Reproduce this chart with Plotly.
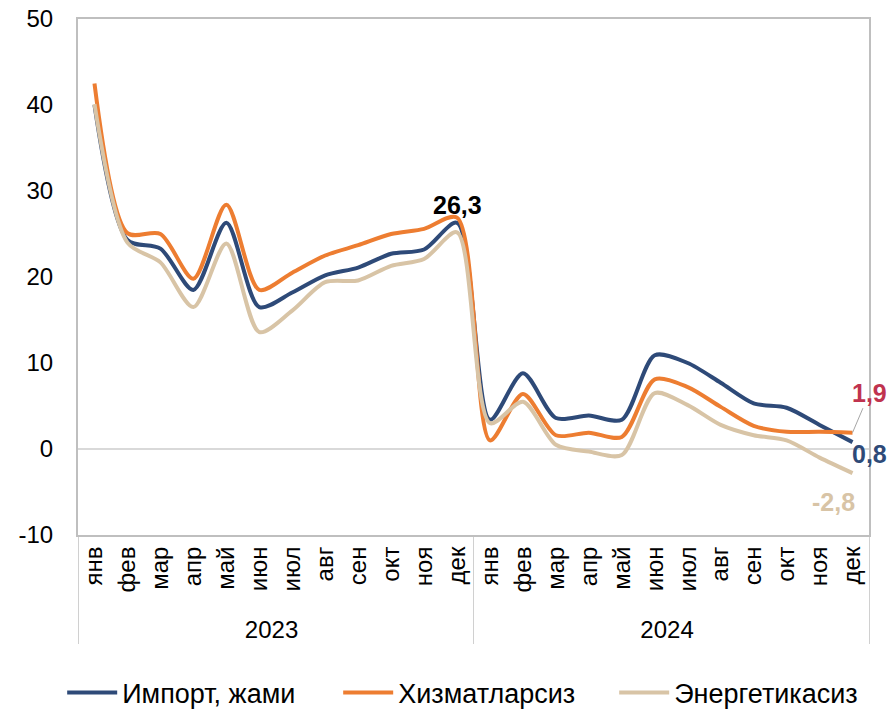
import plotly.graph_objects as go

years = ["2023"] * 12 + ["2024"] * 12
months = ["янв", "фев", "мар", "апр", "май", "июн",
          "июл", "авг", "сен", "окт", "ноя", "дек"] * 2

import_total = [40.0, 24.3, 23.3, 18.5, 26.3, 16.5, 18.2, 20.2, 21.1, 22.7, 23.2, 26.3,
                3.4, 8.8, 3.6, 3.9, 3.4, 10.9, 10.0, 7.7, 5.3, 4.8, 2.8, 0.8]
no_services = [42.5, 25.1, 25.0, 19.8, 28.4, 18.5, 20.5, 22.5, 23.7, 25.0, 25.6, 26.9,
               1.0, 6.4, 1.6, 1.9, 1.4, 8.1, 7.2, 4.9, 2.7, 2.0, 2.0, 1.9]
no_energy = [40.1, 24.0, 21.7, 16.5, 23.9, 13.6, 16.1, 19.4, 19.6, 21.3, 22.1, 25.2,
             3.0, 5.5, 0.5, -0.3, -0.7, 6.5, 5.1, 2.8, 1.6, 1.0, -1.0, -2.8]

y_ticks = [-10, 0, 10, 20, 30, 40, 50]
y_tick_text = ["-10", "0", "10", "20", "30", "40", "50"]

names = ["Импорт, жами", "Хизматларсиз", "Энергетикасиз"]
colors = ["#2E4A78", "#ED7D31", "#D8C4A6"]

fig = go.Figure()
for name, vals, c in zip(names, [import_total, no_services, no_energy], colors):
    fig.add_trace(go.Scatter(
        x=[years, months], y=vals, name=name, mode="lines",
        line=dict(color=c, width=4, shape="spline", smoothing=0.8),
    ))

last = len(months) - 1
lbl = dict(size=25, family="Liberation Sans, Arial")
fig.add_annotation(x=11, y=import_total[11], text="<b>26,3</b>", showarrow=False,
                   yshift=18, font=dict(lbl, color="black"))
fig.add_annotation(x=last, y=import_total[-1], text="<b>0,8</b>", showarrow=False,
                   xshift=17, yshift=-12, font=dict(lbl, color=colors[0]))
fig.add_annotation(x=last, y=no_energy[-1], text="<b>-2,8</b>", showarrow=False,
                   xshift=-19, yshift=-29, font=dict(lbl, color=colors[2]))
fig.add_annotation(x=last, y=no_services[-1], text="<b>1,9</b>", showarrow=True,
                   arrowhead=0, arrowwidth=1, arrowcolor="#A6A6A6",
                   ax=17, ay=-40, font=dict(lbl, color="#C0334F"))

fig.update_layout(
    autosize=False, width=889, height=711,
    margin=dict(l=78, r=20, t=19, b=176, autoexpand=False),
    paper_bgcolor="white", plot_bgcolor="white",
    font=dict(family="Liberation Sans, Arial", size=24, color="black"),
    showlegend=True,
    legend=dict(orientation="h", x=-0.02, xanchor="left", y=-0.306, yanchor="middle",
                font=dict(size=27), entrywidth=211, itemwidth=50),
)
fig.update_xaxes(
    type="multicategory", range=[-0.5, last + 0.5], tickangle=-90, showgrid=False,
    automargin=False,
    showline=True, mirror=True, linecolor="#BFBFBF", linewidth=2,
    ticks="", showdividers=True, dividercolor="#D0D0D0", dividerwidth=1,
    tickfont=dict(size=24),
)
fig.update_yaxes(
    range=[-10, 50], tickvals=y_ticks, ticktext=y_tick_text, showgrid=False,
    automargin=False,
    zeroline=True, zerolinecolor="#D9D9D9", zerolinewidth=2,
    showline=True, mirror=True, linecolor="#BFBFBF", linewidth=2,
    ticks="", tickfont=dict(size=24), ticklabelstandoff=18,
)

fig.write_html(
    "out.html",
    config={"displayModeBar": False, "responsive": False},
    post_script="document.body.style.margin='0';document.body.style.overflow='hidden';",
)
